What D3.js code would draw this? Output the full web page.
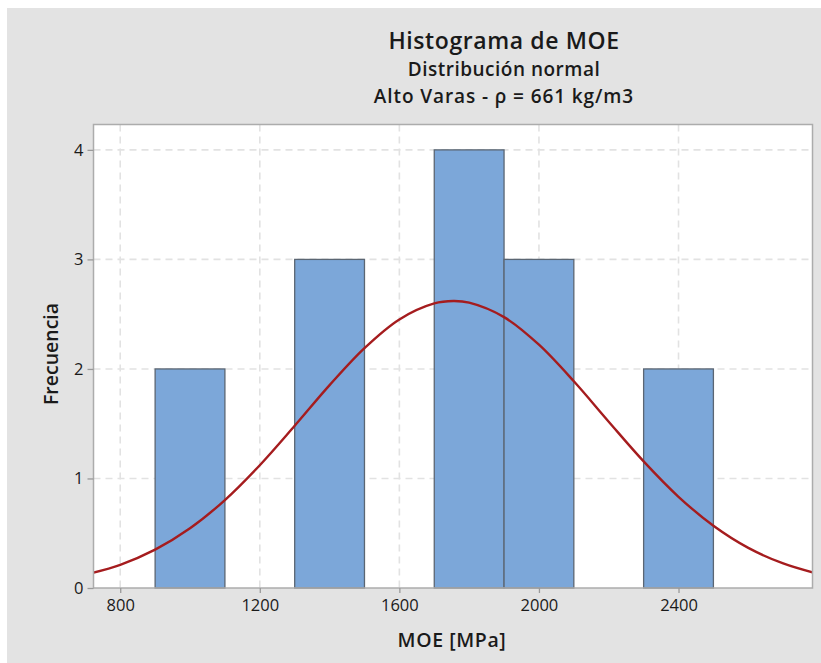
<!DOCTYPE html>
<html>
<head>
<meta charset="utf-8">
<script src="https://cdn.jsdelivr.net/npm/d3@7"></script>
<style>
  html, body { margin: 0; padding: 0; background: #ffffff; }
  svg { display: block; font-family: "Open Sans", "Noto Sans", sans-serif; }
</style>
</head>
<body>
<svg id="chart" width="821" height="663"></svg>
<script>
// Histogram bins of MOE (MPa): lower edge, upper edge, count
const binStart = [900, 1300, 1700, 1900, 2300];
const binEnd   = [1100, 1500, 1900, 2100, 2500];
const binCount = [2, 3, 4, 3, 2];

// Fitted normal curve (scaled to frequency), sampled every 100 MPa
const curveX = [700, 800, 900, 1000, 1100, 1200, 1300, 1400, 1500, 1600, 1700, 1755, 1800, 1900,
                2000, 2100, 2200, 2300, 2400, 2500, 2600, 2700, 2800];
const curveY = [0.122, 0.212, 0.350, 0.545, 0.803, 1.121, 1.481, 1.852, 2.190, 2.452, 2.598, 2.620, 2.605, 2.473,
                2.221, 1.887, 1.518, 1.156, 0.833, 0.568, 0.366, 0.224, 0.129];

// Axis ticks
const xTicks = [800, 1200, 1600, 2000, 2400];
const yTicks = [0, 1, 2, 3, 4];

const titleLines = ["Histograma de MOE", "Distribución normal", "Alto Varas - ρ = 661 kg/m3"];
const xLabel = "MOE [MPa]";
const yLabel = "Frecuencia";

const svg = d3.select("#chart");

// Figure background
svg.append("rect")
  .attr("x", 7).attr("y", 8).attr("width", 814).attr("height", 655)
  .attr("fill", "#e3e3e3");

const plot = { left: 93.5, top: 124.5, right: 812.5, bottom: 588 };

const x = d3.scaleLinear().domain([723.4, 2784]).range([plot.left, plot.right]);
const y = d3.scaleLinear().domain([0, 4.2317]).range([plot.bottom, plot.top]);

// Plot area
svg.append("rect")
  .attr("x", plot.left).attr("y", plot.top)
  .attr("width", plot.right - plot.left).attr("height", plot.bottom - plot.top)
  .attr("fill", "#ffffff");

// Dashed grid
const grid = svg.append("g").attr("stroke", "#e2e2e2").attr("stroke-width", 1.6)
  .attr("stroke-dasharray", "7,5");
grid.selectAll(".gx").data(xTicks).join("line")
  .attr("x1", d => x(d)).attr("x2", d => x(d))
  .attr("y1", plot.top).attr("y2", plot.bottom);
grid.selectAll(".gy").data(yTicks.filter(d => d > 0)).join("line")
  .attr("x1", plot.left).attr("x2", plot.right)
  .attr("y1", d => y(d)).attr("y2", d => y(d));

// Bars
svg.append("g").selectAll("rect").data(binCount).join("rect")
  .attr("x", (d, i) => x(binStart[i]))
  .attr("y", d => y(d))
  .attr("width", (d, i) => x(binEnd[i]) - x(binStart[i]))
  .attr("height", d => y(0) - y(d))
  .attr("fill", "#7ca7d9")
  .attr("stroke", "#5b6673")
  .attr("stroke-width", 1.3);

// Normal curve, clipped to the plot area
svg.append("clipPath").attr("id", "plotClip").append("rect")
  .attr("x", plot.left).attr("y", plot.top)
  .attr("width", plot.right - plot.left).attr("height", plot.bottom - plot.top);

const line = d3.line()
  .x((d, i) => x(curveX[i]))
  .y(d => y(d))
  .curve(d3.curveCatmullRom);

svg.append("path")
  .datum(curveY)
  .attr("clip-path", "url(#plotClip)")
  .attr("d", line)
  .attr("fill", "none")
  .attr("stroke", "#a51c1e")
  .attr("stroke-width", 2.4);

// Plot frame
svg.append("rect")
  .attr("x", plot.left).attr("y", plot.top)
  .attr("width", plot.right - plot.left).attr("height", plot.bottom - plot.top)
  .attr("fill", "none").attr("stroke", "#acacac").attr("stroke-width", 1.5);

// Axes
const xAxis = d3.axisBottom(x).tickValues(xTicks).tickSize(5).tickPadding(6).tickFormat(d3.format("d"));
const yAxis = d3.axisLeft(y).tickValues(yTicks).tickSize(6).tickPadding(4).tickFormat(d3.format("d"));

const gx = svg.append("g").attr("transform", `translate(0,${plot.bottom})`).call(xAxis);
const gy = svg.append("g").attr("transform", `translate(${plot.left},0)`).call(yAxis);

[gx, gy].forEach(g => {
  g.select(".domain").remove();
  g.selectAll(".tick line").attr("stroke", "#9a9a9a").attr("stroke-width", 1.3);
  g.selectAll(".tick text")
    .attr("fill", "#1a1a1a")
    .style("font-family", "'Open Sans', 'Noto Sans', sans-serif")
    .style("font-size", "16.5px");
});

// Axis titles
svg.append("text")
  .attr("x", 452).attr("y", 647)
  .attr("text-anchor", "middle")
  .attr("fill", "#1a1a1a")
  .style("font-size", "19.5px").style("font-weight", 600).style("letter-spacing", "0.6px")
  .text(xLabel);

svg.append("text")
  .attr("transform", `translate(58,354) rotate(-90)`)
  .attr("text-anchor", "middle")
  .attr("fill", "#1a1a1a")
  .style("font-size", "19.5px").style("font-weight", 600)
  .text(yLabel);

// Titles
const titleX = 504;
svg.append("text").attr("x", titleX).attr("y", 49).attr("text-anchor", "middle")
  .attr("fill", "#1a1a1a").style("font-size", "23px").style("font-weight", 600)
  .style("letter-spacing", "0.6px").text(titleLines[0]);
svg.append("text").attr("x", titleX).attr("y", 76).attr("text-anchor", "middle")
  .attr("fill", "#1a1a1a").style("font-size", "19px").style("font-weight", 600)
  .style("letter-spacing", "0.5px").text(titleLines[1]);
svg.append("text").attr("x", titleX).attr("y", 103).attr("text-anchor", "middle")
  .attr("fill", "#1a1a1a").style("font-size", "19px").style("font-weight", 600)
  .style("letter-spacing", "0.9px").text(titleLines[2]);
</script>
</body>
</html>
